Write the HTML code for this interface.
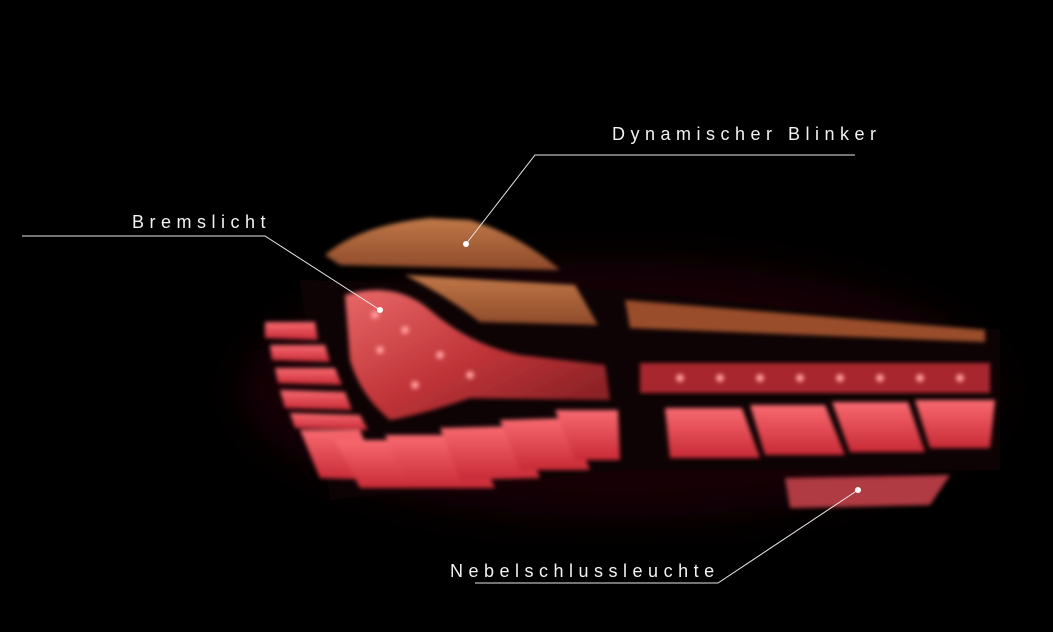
<!DOCTYPE html>
<html><head><meta charset="utf-8"><style>
html,body{margin:0;padding:0;background:#000;}
svg{display:block}
text{font-family:"Liberation Sans",sans-serif;fill:#f2f2f2;font-size:18px;letter-spacing:5.5px}
</style></head><body>
<svg width="1053" height="632" viewBox="0 0 1053 632" xmlns="http://www.w3.org/2000/svg">
<defs>
<filter id="b2"><feGaussianBlur stdDeviation="2"/></filter>
<filter id="b20"><feGaussianBlur stdDeviation="20"/></filter>
<linearGradient id="amber" x1="0" y1="0" x2="0" y2="1"><stop offset="0" stop-color="#c07848"/><stop offset="1" stop-color="#8e4a2a"/></linearGradient>
<linearGradient id="brake" x1="0" y1="0" x2="1" y2="1"><stop offset="0" stop-color="#e86868"/><stop offset="0.5" stop-color="#c03438"/><stop offset="1" stop-color="#7a1c20"/></linearGradient>
<linearGradient id="seg" x1="0" y1="0" x2="0" y2="1"><stop offset="0" stop-color="#f86a70"/><stop offset="1" stop-color="#c82a36"/></linearGradient>
</defs>
<rect width="1053" height="632" fill="#000"/>
<ellipse cx="620" cy="390" rx="380" ry="130" fill="#300607" opacity="0.45" filter="url(#b20)"/>
<path d="M300 280 L620 290 L1000 330 L1000 470 L620 470 L330 500 Z" fill="#0e0304"/>
<path d="M325 255 Q360 225 430 218 L470 220 Q520 235 560 270 L340 265 Z" fill="url(#amber)" filter="url(#b2)"/>
<path d="M405 275 L575 285 L598 325 L480 322 Q445 295 405 275 Z" fill="url(#amber)" filter="url(#b2)"/>
<path d="M625 300 L985 330 L985 342 L630 328 Z" fill="#9a4e2c" filter="url(#b2)"/>
<path d="M345 295 Q395 280 430 310 Q470 345 520 355 L605 365 L610 400 L470 398 Q420 415 390 420 Q360 395 350 360 Z" fill="url(#brake)" filter="url(#b2)"/>
<rect x="640" y="363" width="350" height="30" fill="#a8262e" filter="url(#b2)"/>
<g fill="#ff9a9a" filter="url(#b2)">
<circle cx="680" cy="378" r="4"/><circle cx="720" cy="378" r="4"/><circle cx="760" cy="378" r="4"/><circle cx="800" cy="378" r="4"/><circle cx="840" cy="378" r="4"/><circle cx="880" cy="378" r="4"/><circle cx="920" cy="378" r="4"/><circle cx="960" cy="378" r="4"/>
<circle cx="375" cy="315" r="4"/><circle cx="405" cy="330" r="4"/><circle cx="380" cy="350" r="4"/><circle cx="440" cy="355" r="4"/><circle cx="470" cy="375" r="4"/><circle cx="415" cy="385" r="4"/>
</g>
<g fill="url(#seg)" filter="url(#b2)">
<path d="M665 408 L742 408 L760 458 L670 458 Z"/>
<path d="M750 405 L825 405 L845 455 L765 455 Z"/>
<path d="M832 402 L908 402 L925 452 L850 452 Z"/>
<path d="M915 400 L995 400 L990 448 L930 448 Z"/>
<path d="M300 430 L360 430 L380 480 L320 478 Z"/>
<path d="M335 440 L420 440 L440 488 L360 488 Z"/>
<path d="M385 435 L470 435 L495 488 L410 488 Z"/>
<path d="M440 428 L520 426 L540 478 L460 480 Z"/>
<path d="M500 420 L570 418 L590 470 L520 470 Z"/>
<path d="M555 410 L618 410 L620 460 L575 460 Z"/>
<path d="M265 322 L315 322 L318 340 L265 338 Z"/>
<path d="M270 345 L325 345 L330 362 L272 360 Z"/>
<path d="M275 368 L335 368 L342 385 L278 383 Z"/>
<path d="M280 390 L345 392 L352 410 L285 408 Z"/>
<path d="M290 413 L360 415 L368 430 L295 428 Z"/>
</g>
<path d="M785 478 L950 475 L930 505 L790 508 Z" fill="#b03a42" filter="url(#b2)"/>
<g stroke="#e8e8e8" stroke-width="1" fill="none">
<polyline points="855,155 535,155 466,244"/>
<polyline points="22,236 265,236 380,310"/>
<polyline points="475,583 718,583 858,490"/>
</g>
<g fill="#fff"><circle cx="466" cy="244" r="3"/><circle cx="380" cy="310" r="3"/><circle cx="858" cy="490" r="3"/></g>
<text x="612" y="140">Dynamischer Blinker</text>
<text x="132" y="228">Bremslicht</text>
<text x="450" y="577">Nebelschlussleuchte</text>
</svg>
</body></html>
